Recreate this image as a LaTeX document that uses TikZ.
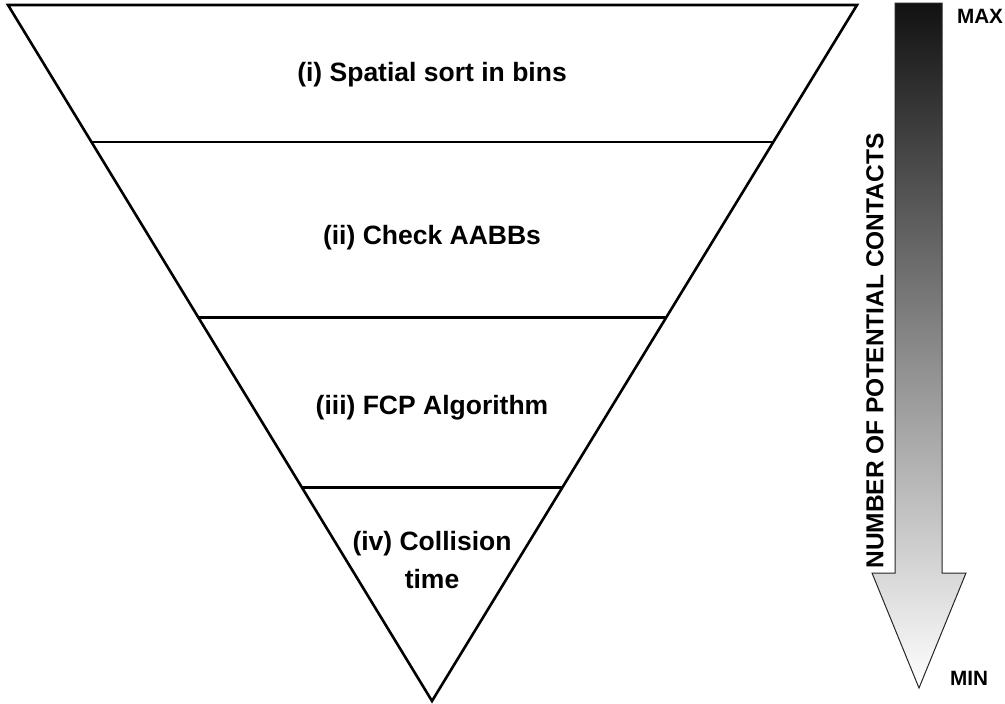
\documentclass[tikz,border=0pt]{standalone}
\usepackage{fontspec}
\setmainfont{Liberation Sans}
\usetikzlibrary{calc}
\tikzset{
  stage/.style={font=\fontsize{26.5}{38}\selectfont\bfseries, align=center},
  edge/.style={line width=2.6pt, line join=miter},
  axislbl/.style={font=\fontsize{24.5}{30}\selectfont\bfseries},
  endlbl/.style={font=\fontsize{20.7}{24}\selectfont\bfseries},
  gradarrow/.style={top color=black!93, bottom color=white, draw=black!85, line width=1pt}
}
\begin{document}
\begin{tikzpicture}[x=1pt,y=-1pt]
    \useasboundingbox (0,0) rectangle (1005,704);

    % inverted triangle
    \coordinate (tl) at (8,5);
    \coordinate (tr) at (857,5);
    \coordinate (apex) at (432,701);
    \draw[edge] (tl) -- (tr) -- (apex) -- cycle;

    \foreach \t [count=\i] in {0.1966,0.449,0.693} {
      \coordinate (l\i) at ($(tl)!\t!(apex)$);
      \coordinate (r\i) at ($(tr)!\t!(apex)$);
      \draw[edge] (l\i) -- (r\i);
    }

    \node[stage] (s1) at (432,75) {(i) Spatial sort in bins};
    \node[stage] (s2) at (432,238) {(ii) Check AABBs};
    \node[stage] (s3) at (432,408) {(iii) FCP Algorithm};
    \node[stage] (s4) at (432,560) {(iv) Collision\\time};

    % gradient arrow
    \coordinate (a1) at (895,3);
    \coordinate (a2) at (942,3);
    \coordinate (a3) at (942,573);
    \coordinate (a4) at (966,573);
    \coordinate (a5) at (919,688);
    \coordinate (a6) at (872,573);
    \coordinate (a7) at (895,573);
    \shadedraw[gradarrow] (a1) -- (a2) -- (a3) -- (a4) -- (a5) -- (a6) -- (a7) -- cycle;

    \node[axislbl, rotate=90] (num) at (875,351) {NUMBER OF POTENTIAL CONTACTS};
    \node[endlbl] (max) at (980,16) {MAX};
    \node[endlbl] (min) at (969,678) {MIN};
  \end{tikzpicture}
\end{document}
